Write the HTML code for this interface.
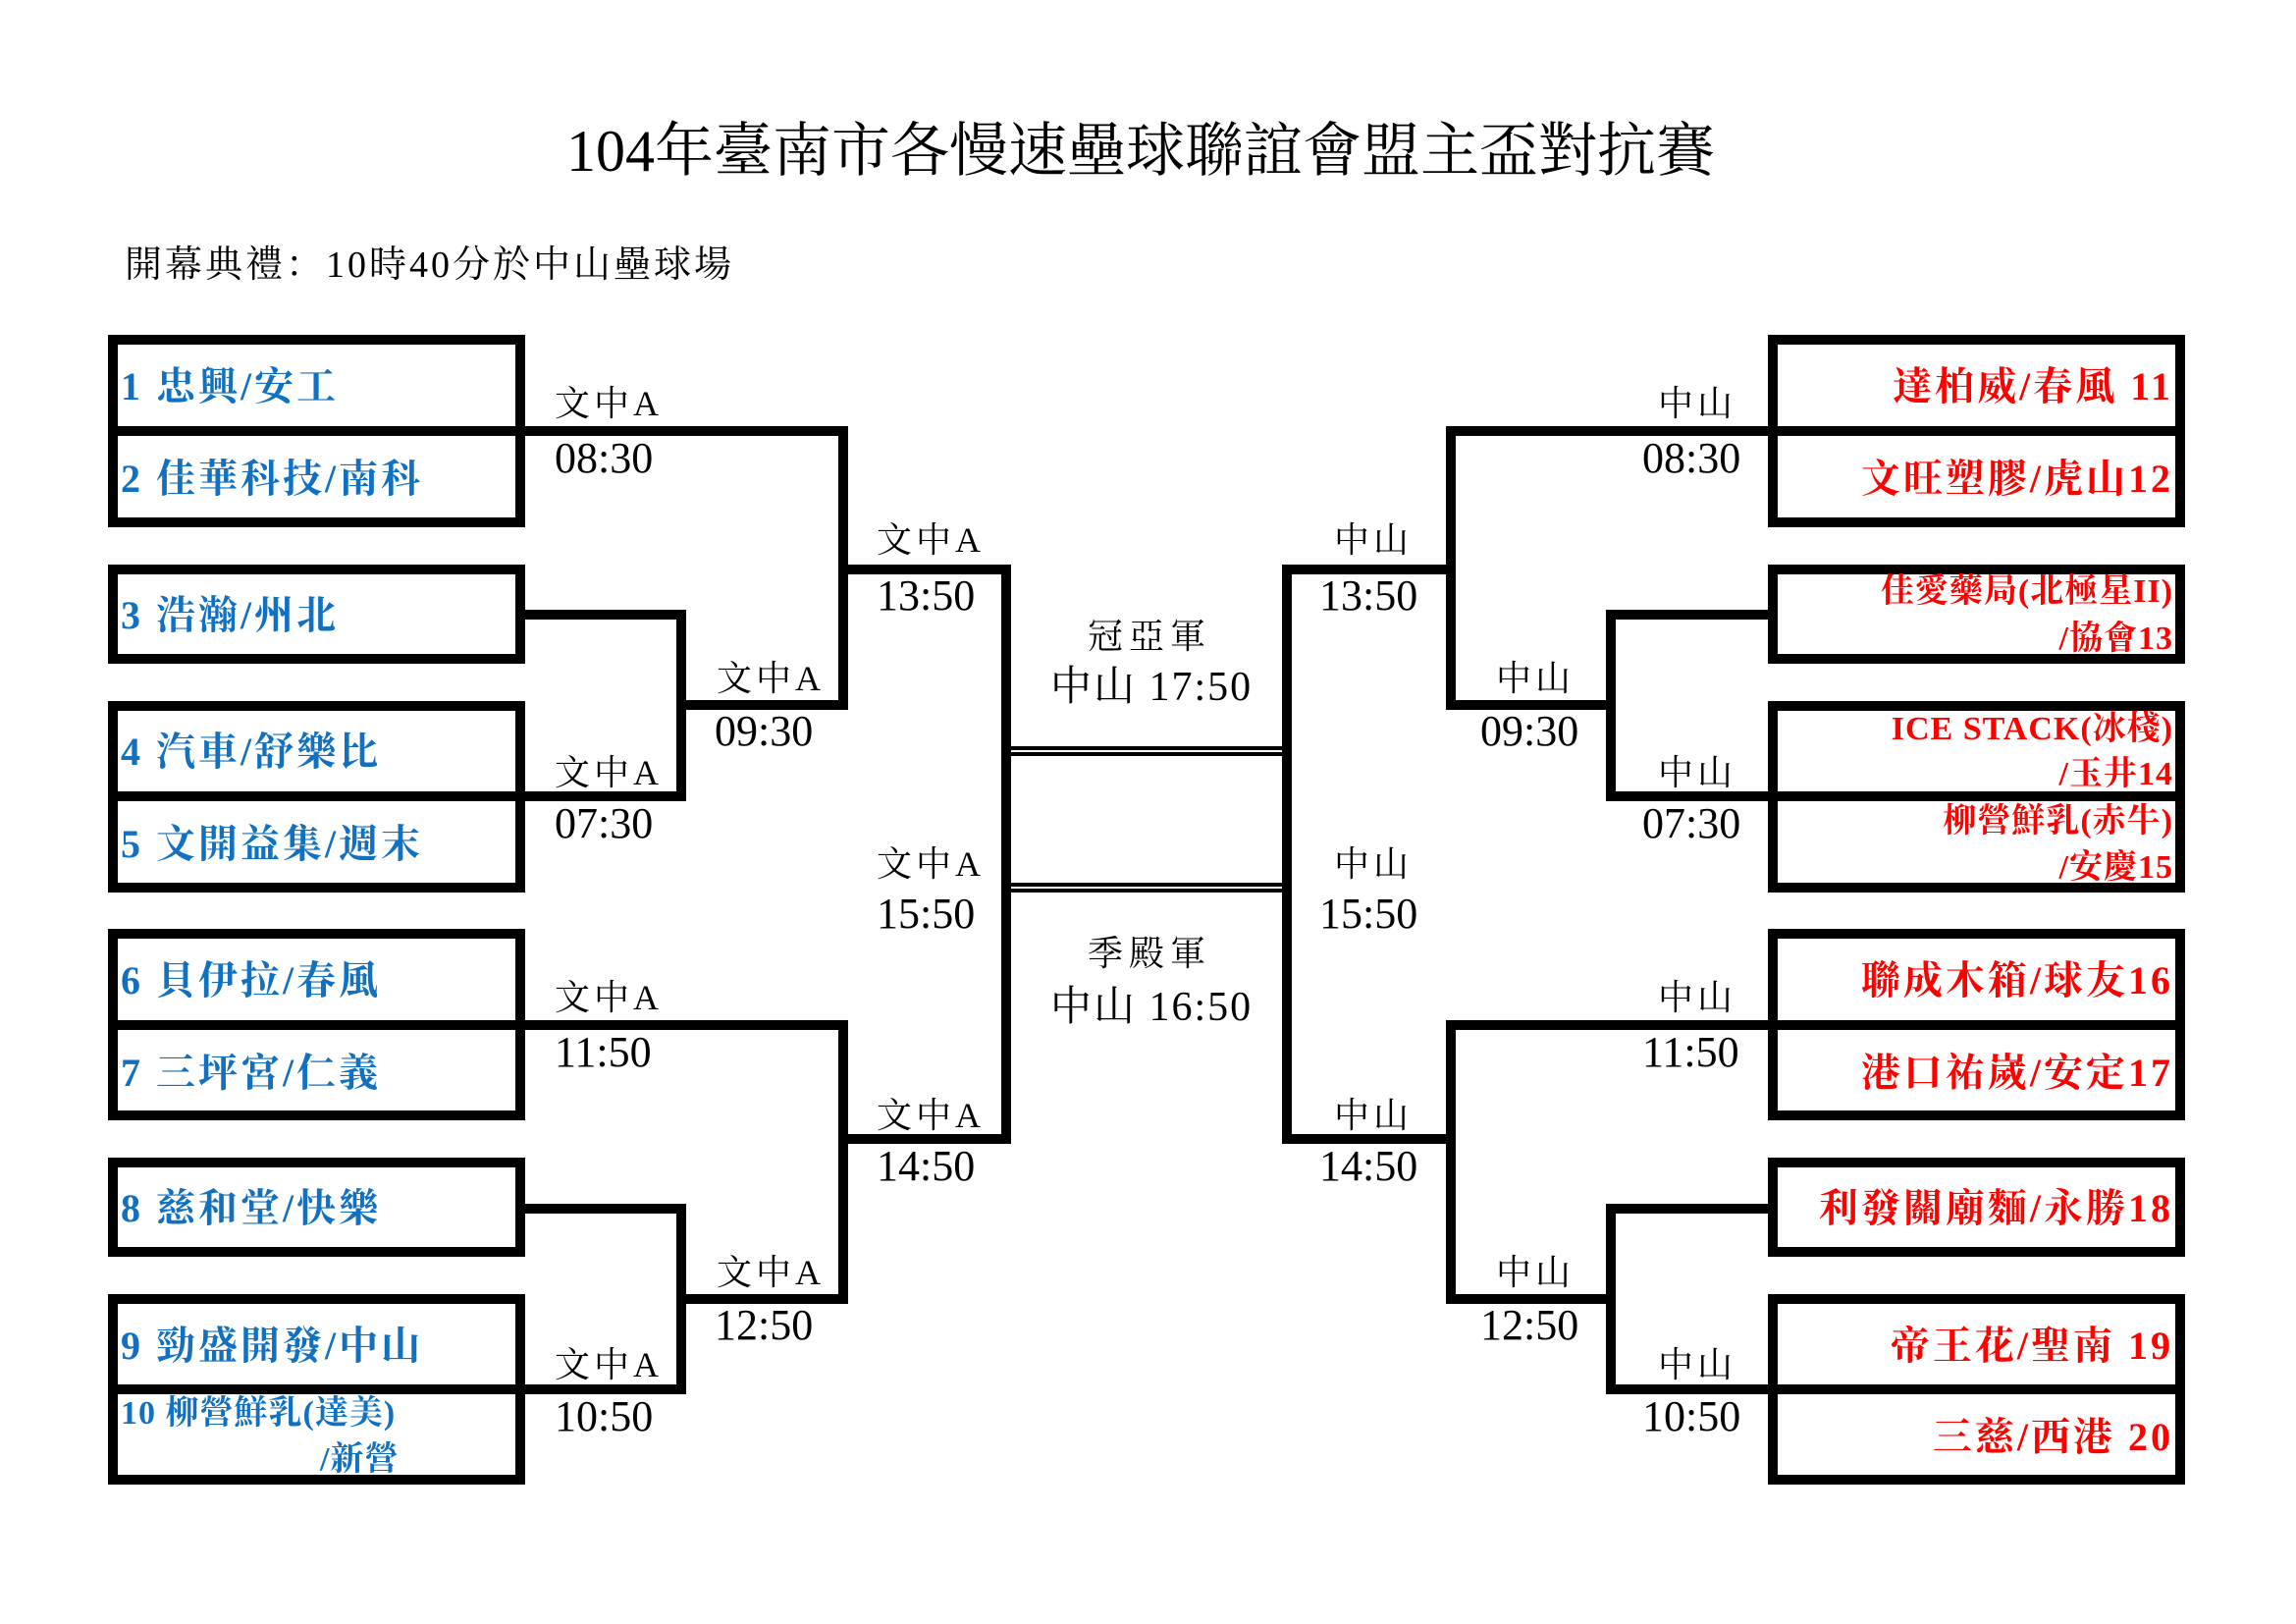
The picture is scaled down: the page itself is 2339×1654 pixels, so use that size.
<!DOCTYPE html>
<html><head><meta charset="utf-8">
<style>
body{margin:0;width:2339px;height:1654px;background:#fff;position:relative;overflow:hidden}
.b{position:absolute;background:#000}
.box{position:absolute;border:10px solid #000;box-sizing:border-box}
.t{position:absolute;white-space:nowrap;line-height:1;color:#000}
.lb{font-family:"Liberation Serif","Noto Serif CJK SC",serif;font-size:36px;letter-spacing:4px}
.tm{font-family:"Liberation Serif",serif;font-size:44px}
.tl{position:absolute;white-space:nowrap;font-family:"Liberation Serif","Noto Serif CJK SC",serif;font-weight:bold;color:#1170c0;font-size:40px;letter-spacing:3px;line-height:1;left:123px}
.tr{position:absolute;white-space:nowrap;font-family:"Liberation Serif","Noto Serif CJK SC",serif;font-weight:bold;color:#f00;font-size:40px;letter-spacing:3px;line-height:1;right:125px;text-align:right}
.sm{font-size:34px;letter-spacing:1px}
</style></head><body>
<div class="t" style="left:577px;top:124px;font-family:'Liberation Serif','Noto Serif CJK SC',serif;font-size:60px;letter-spacing:0px">104年臺南市各慢速壘球聯誼會盟主盃對抗賽</div>
<div class="t" style="left:127px;top:251px;font-family:'Liberation Serif','Noto Serif CJK SC',serif;font-size:38px;letter-spacing:3px">開幕典禮：10時40分於中山壘球場</div>

<!-- left boxes -->
<div class="box" style="left:110px;top:341px;width:425px;height:196px"></div><div class="b" style="left:110px;top:434px;width:425px;height:10px"></div>
<div class="box" style="left:110px;top:575px;width:425px;height:101px"></div>
<div class="box" style="left:110px;top:714px;width:425px;height:195px"></div><div class="b" style="left:110px;top:806px;width:425px;height:10px"></div>
<div class="box" style="left:110px;top:946px;width:425px;height:195px"></div><div class="b" style="left:110px;top:1039px;width:425px;height:10px"></div>
<div class="box" style="left:110px;top:1179px;width:425px;height:101px"></div>
<div class="box" style="left:110px;top:1318px;width:425px;height:194px"></div><div class="b" style="left:110px;top:1410px;width:425px;height:10px"></div>
<!-- right boxes -->
<div class="box" style="left:1801px;top:341px;width:425px;height:196px"></div><div class="b" style="left:1801px;top:434px;width:425px;height:10px"></div>
<div class="box" style="left:1801px;top:575px;width:425px;height:101px"></div>
<div class="box" style="left:1801px;top:714px;width:425px;height:195px"></div><div class="b" style="left:1801px;top:806px;width:425px;height:10px"></div>
<div class="box" style="left:1801px;top:946px;width:425px;height:195px"></div><div class="b" style="left:1801px;top:1039px;width:425px;height:10px"></div>
<div class="box" style="left:1801px;top:1179px;width:425px;height:101px"></div>
<div class="box" style="left:1801px;top:1318px;width:425px;height:194px"></div><div class="b" style="left:1801px;top:1410px;width:425px;height:10px"></div>

<!-- left connectors -->
<div class="b" style="left:535px;top:434px;width:329px;height:10px"></div>
<div class="b" style="left:854px;top:434px;width:10px;height:289px"></div>
<div class="b" style="left:535px;top:621px;width:164px;height:10px"></div>
<div class="b" style="left:689px;top:621px;width:10px;height:195px"></div>
<div class="b" style="left:535px;top:806px;width:164px;height:10px"></div>
<div class="b" style="left:699px;top:713px;width:165px;height:10px"></div>
<div class="b" style="left:864px;top:575px;width:166px;height:10px"></div>
<div class="b" style="left:1020px;top:575px;width:10px;height:590px"></div>
<div class="b" style="left:535px;top:1039px;width:329px;height:10px"></div>
<div class="b" style="left:854px;top:1039px;width:10px;height:289px"></div>
<div class="b" style="left:535px;top:1226px;width:164px;height:10px"></div>
<div class="b" style="left:689px;top:1226px;width:10px;height:194px"></div>
<div class="b" style="left:535px;top:1410px;width:164px;height:10px"></div>
<div class="b" style="left:699px;top:1318px;width:165px;height:10px"></div>
<div class="b" style="left:864px;top:1155px;width:166px;height:10px"></div>
<!-- right connectors -->
<div class="b" style="left:1473px;top:434px;width:328px;height:10px"></div>
<div class="b" style="left:1473px;top:434px;width:10px;height:289px"></div>
<div class="b" style="left:1636px;top:621px;width:165px;height:10px"></div>
<div class="b" style="left:1636px;top:621px;width:10px;height:195px"></div>
<div class="b" style="left:1636px;top:806px;width:165px;height:10px"></div>
<div class="b" style="left:1473px;top:713px;width:173px;height:10px"></div>
<div class="b" style="left:1306px;top:575px;width:177px;height:10px"></div>
<div class="b" style="left:1306px;top:575px;width:10px;height:590px"></div>
<div class="b" style="left:1473px;top:1039px;width:328px;height:10px"></div>
<div class="b" style="left:1473px;top:1039px;width:10px;height:289px"></div>
<div class="b" style="left:1636px;top:1226px;width:165px;height:10px"></div>
<div class="b" style="left:1636px;top:1226px;width:10px;height:194px"></div>
<div class="b" style="left:1636px;top:1410px;width:165px;height:10px"></div>
<div class="b" style="left:1473px;top:1318px;width:173px;height:10px"></div>
<div class="b" style="left:1306px;top:1155px;width:177px;height:10px"></div>
<!-- center double lines -->
<div class="b" style="left:1030px;top:760px;width:276px;height:4px"></div>
<div class="b" style="left:1030px;top:766px;width:276px;height:4px"></div>
<div class="b" style="left:1030px;top:899px;width:276px;height:4px"></div>
<div class="b" style="left:1030px;top:905px;width:276px;height:4px"></div>

<!-- left labels -->
<div class="t lb" style="left:565px;top:393px">文中A</div><div class="t tm" style="left:565px;top:445px">08:30</div>
<div class="t lb" style="left:565px;top:769px">文中A</div><div class="t tm" style="left:565px;top:817px">07:30</div>
<div class="t lb" style="left:730px;top:673px">文中A</div><div class="t tm" style="left:728px;top:723px">09:30</div>
<div class="t lb" style="left:893px;top:532px">文中A</div><div class="t tm" style="left:893px;top:585px">13:50</div>
<div class="t lb" style="left:893px;top:862px">文中A</div><div class="t tm" style="left:893px;top:909px">15:50</div>
<div class="t lb" style="left:893px;top:1118px">文中A</div><div class="t tm" style="left:893px;top:1166px">14:50</div>
<div class="t lb" style="left:565px;top:998px">文中A</div><div class="t tm" style="left:565px;top:1050px">11:50</div>
<div class="t lb" style="left:730px;top:1278px">文中A</div><div class="t tm" style="left:728px;top:1328px">12:50</div>
<div class="t lb" style="left:565px;top:1372px">文中A</div><div class="t tm" style="left:565px;top:1421px">10:50</div>
<!-- right labels -->
<div class="t lb" style="left:1689px;top:393px">中山</div><div class="t tm" style="left:1673px;top:445px">08:30</div>
<div class="t lb" style="left:1689px;top:769px">中山</div><div class="t tm" style="left:1673px;top:817px">07:30</div>
<div class="t lb" style="left:1524px;top:673px">中山</div><div class="t tm" style="left:1508px;top:723px">09:30</div>
<div class="t lb" style="left:1359px;top:532px">中山</div><div class="t tm" style="left:1344px;top:585px">13:50</div>
<div class="t lb" style="left:1359px;top:862px">中山</div><div class="t tm" style="left:1344px;top:909px">15:50</div>
<div class="t lb" style="left:1359px;top:1118px">中山</div><div class="t tm" style="left:1344px;top:1166px">14:50</div>
<div class="t lb" style="left:1689px;top:998px">中山</div><div class="t tm" style="left:1673px;top:1050px">11:50</div>
<div class="t lb" style="left:1524px;top:1278px">中山</div><div class="t tm" style="left:1508px;top:1328px">12:50</div>
<div class="t lb" style="left:1689px;top:1372px">中山</div><div class="t tm" style="left:1673px;top:1421px">10:50</div>
<!-- center -->
<div class="t lb" style="left:1108px;top:630px;letter-spacing:6px">冠亞軍</div>
<div class="t" style="left:1070px;top:679px;font-family:'Liberation Serif','Noto Serif CJK SC',serif;font-size:42px;letter-spacing:2px">中山 17:50</div>
<div class="t lb" style="left:1108px;top:953px;letter-spacing:6px">季殿軍</div>
<div class="t" style="left:1070px;top:1005px;font-family:'Liberation Serif','Noto Serif CJK SC',serif;font-size:42px;letter-spacing:2px">中山 16:50</div>

<!-- left teams -->
<div class="tl" style="top:374px">1 忠興/安工</div>
<div class="tl" style="top:468px">2 佳華科技/南科</div>
<div class="tl" style="top:607px">3 浩瀚/州北</div>
<div class="tl" style="top:746px">4 汽車/舒樂比</div>
<div class="tl" style="top:840px">5 文開益集/週末</div>
<div class="tl" style="top:979px">6 貝伊拉/春風</div>
<div class="tl" style="top:1073px">7 三坪宮/仁義</div>
<div class="tl" style="top:1211px">8 慈和堂/快樂</div>
<div class="tl" style="top:1351px">9 勁盛開發/中山</div>
<div class="tl sm" style="top:1423px">10 柳營鮮乳(達美)</div>
<div class="tl sm" style="top:1470px;left:326px">/新營</div>
<!-- right teams -->
<div class="tr" style="top:374px">達柏威/春風 11</div>
<div class="tr" style="top:468px">文旺塑膠/虎山12</div>
<div class="tr sm" style="top:586px">佳愛藥局(北極星II)</div>
<div class="tr sm" style="top:634px">/協會13</div>
<div class="tr sm" style="top:726px">ICE STACK(冰棧)</div>
<div class="tr sm" style="top:772px">/玉井14</div>
<div class="tr sm" style="top:820px">柳營鮮乳(赤牛)</div>
<div class="tr sm" style="top:867px">/安慶15</div>
<div class="tr" style="top:979px">聯成木箱/球友16</div>
<div class="tr" style="top:1073px">港口祐嵗/安定17</div>
<div class="tr" style="top:1211px">利發關廟麵/永勝18</div>
<div class="tr" style="top:1351px">帝王花/聖南 19</div>
<div class="tr" style="top:1444px">三慈/西港 20</div>
</body></html>
